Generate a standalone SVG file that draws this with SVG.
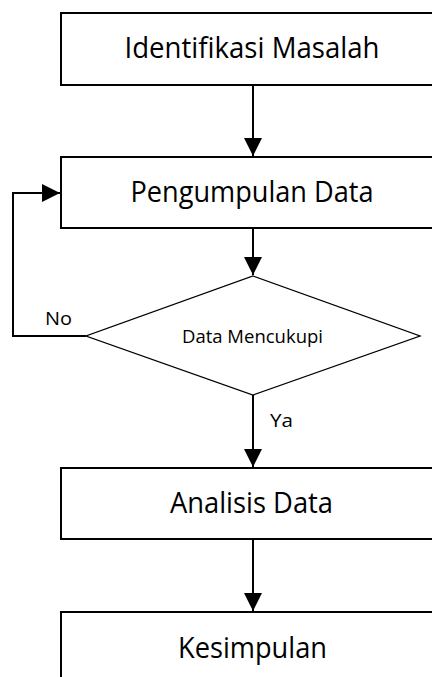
<svg xmlns="http://www.w3.org/2000/svg" width="432" height="677" viewBox="0 0 432 677">
<style>
.box{fill:#fff;stroke:#000;stroke-width:2}
.dia{fill:#fff;stroke:#000;stroke-width:1.3}
.con{fill:none;stroke:#000;stroke-width:2}
.big{font-family:"Open Sans","Noto Sans",sans-serif;font-size:28.5px;fill:#000;text-anchor:middle}
.small{font-family:"Open Sans","Noto Sans",sans-serif;font-size:18px;fill:#000}
</style>
<defs>
<marker id="arr" markerUnits="userSpaceOnUse" markerWidth="18" markerHeight="18" viewBox="0 0 16 16" refX="16" refY="8" orient="auto">
<path d="M0,0 L16,8 L0,16 Z" fill="#000"/>
</marker>
</defs>
<rect width="432" height="677" fill="#fff"/>
<g id="connectors">
<line class="con" x1="253" y1="85" x2="253" y2="156" marker-end="url(#arr)"/>
<line class="con" x1="253" y1="228" x2="253" y2="275" marker-end="url(#arr)"/>
<polyline class="con" points="86,336 13,336 13,193 60,193" marker-end="url(#arr)"/>
<line class="con" x1="253" y1="395" x2="253" y2="467" marker-end="url(#arr)"/>
<line class="con" x1="253" y1="539" x2="253" y2="611" marker-end="url(#arr)"/>
<text class="small" x="45" y="325" textLength="27" lengthAdjust="spacingAndGlyphs">No</text>
<text class="small" x="270" y="427" textLength="23" lengthAdjust="spacingAndGlyphs">Ya</text>
</g>
<g id="n1">
<rect class="box" x="61" y="13" width="390" height="72"/>
<text class="big" x="252" y="58" textLength="255" lengthAdjust="spacingAndGlyphs">Identifikasi Masalah</text>
</g>
<g id="n2">
<rect class="box" x="61" y="157" width="390" height="71"/>
<text class="big" x="252" y="202" textLength="243" lengthAdjust="spacingAndGlyphs">Pengumpulan Data</text>
</g>
<g id="n3">
<polygon class="dia" points="253,276 420,336 253,395 86,336"/>
<text class="small" x="252.5" y="343" text-anchor="middle" textLength="141" lengthAdjust="spacingAndGlyphs">Data Mencukupi</text>
</g>
<g id="n4">
<rect class="box" x="61" y="468" width="390" height="71"/>
<text class="big" x="251.5" y="513" textLength="163" lengthAdjust="spacingAndGlyphs">Analisis Data</text>
</g>
<g id="n5">
<rect class="box" x="61" y="612" width="390" height="90"/>
<text class="big" x="252.5" y="658" textLength="149" lengthAdjust="spacingAndGlyphs">Kesimpulan</text>
</g>
</svg>
